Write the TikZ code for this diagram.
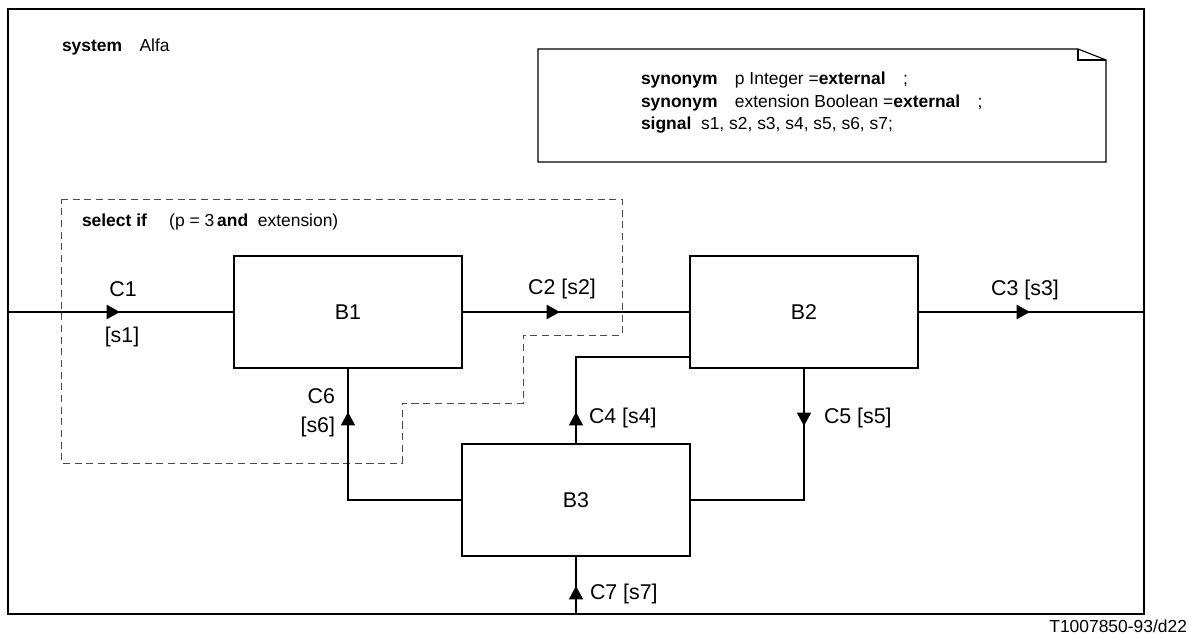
\documentclass[tikz,border=0pt]{standalone}
\usepackage{fontspec}
\setmainfont{Liberation Sans}
\usepackage{tikz}
\usetikzlibrary{positioning, arrows.meta, decorations.markings}

\begin{document}
\begin{tikzpicture}[
    outer sep=0pt,
    blocknode/.style={rectangle, draw=black, line width=0.9pt, minimum width=5.7cm, minimum height=2.8cm, font=\fontsize{15.2pt}{17pt}\selectfont},
    lbl/.style={inner sep=0pt, font=\fontsize{15.2pt}{17pt}\selectfont},
    txt/.style={inner sep=0pt, font=\fontsize{12.4pt}{16pt}\selectfont},
    chan/.style={line width=0.8pt},
    thickchan/.style={line width=1.4pt},
    tip/.style={postaction={decorate}, decoration={markings, mark=at position #1 with {\arrow{Triangle[length=9.5pt, width=10pt]}}}},
    optional/.style={draw=black!70, line width=0.7pt, dash pattern=on 5pt off 3.3pt}
]
\useasboundingbox (0,0) rectangle (29.725,15.85);
\node[draw, line width=0.8pt, minimum width=28.4cm, minimum height=15.125cm](frame) at (14.4,8.0625){};
\node[txt, anchor=west](sysname) at (1.55,14.675){\textbf{system}\quad Alfa};

% text symbol with the declarations
\draw[line width=0.8pt] (13.45,11.8) -- (27.65,11.8) -- (27.65,14.35) -- (26.95,14.625) -- (13.45,14.625) -- cycle;
\draw[line width=0.8pt] (26.95,14.625) |- (27.65,14.35);
\node[txt, anchor=west, align=left](decls) at (16.025,13.275){\textbf{synonym}\quad p Integer =\textbf{external}\quad ;\\ \textbf{synonym}\quad extension Boolean =\textbf{external}\quad ;\\ \textbf{signal}\ \ s1, s2, s3, s4, s5, s6, s7;};

% optional part
\draw[optional] (1.525,10.875) -- (15.55,10.875) -- (15.55,7.475) -- (13.075,7.475) -- (13.075,5.775) -- (10.05,5.775) -- (10.05,4.275) -- (1.525,4.275) -- cycle;
\node[txt, anchor=west](selectif) at (2.05,10.3){\textbf{select if}\quad\ (p = 3\,\textbf{and}\ \ extension)};

\node[blocknode](B1) at (8.7,8.05){B1};
\node[blocknode](B2)[right = 5.7cm of B1]{B2};
\node[blocknode](B3)[below right = 1.9cm and 0cm of B1]{B3};
\coordinate[below = 1.125cm of B2.west](c4end);

% channels
\draw[thickchan, tip=2.8cm] (B1.west -| frame.west) -- (B1.west);
\draw[thickchan, tip=2.45cm] (B1.east) -- (B2.west);
\draw[thickchan, tip=2.8cm] (B2.east) -- (B2.east -| frame.east);
\draw[chan, tip=0.8cm] (B3.north) |- (c4end);
\draw[chan, tip=1.45cm] (B2.south) |- (B3.east);
\draw[chan, tip=5.05cm] (B3.west) -| (B1.south);
\draw[chan, tip=0.7cm] (B3.south |- frame.south) -- (B3.south);

\node[lbl](c1name) at (3.075,8.625){C1};
\node[lbl](c1sig) at (3.05,7.425){[s1]};
\node[lbl](c2name) at (14.05,8.625){C2 [s2]};
\node[lbl](c3name) at (25.625,8.6){C3 [s3]};
\node[lbl, anchor=west](c4name) at (14.725,5.4){C4 [s4]};
\node[lbl, anchor=west](c5name) at (20.6,5.4){C5 [s5]};
\node[lbl, anchor=east](c6name) at (8.375,5.95){C6};
\node[lbl, anchor=east](c6sig) at (8.375,5.175){[s6]};
\node[lbl, anchor=west](c7name) at (14.75,1.0){C7 [s7]};

\node[txt, anchor=east](figno) at (29.675,0.2){T1007850-93/d22};
\end{tikzpicture}
\end{document}
